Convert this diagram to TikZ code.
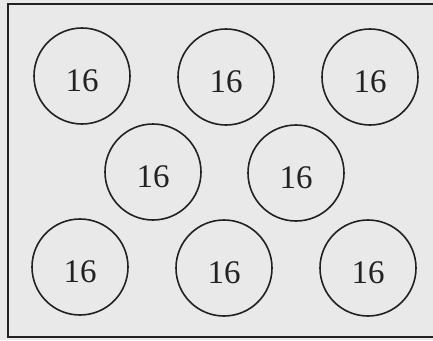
\documentclass[tikz,border=0pt]{standalone}
\usepackage{fontspec}
\setmainfont{Liberation Serif}
\definecolor{paper}{HTML}{E9E9E9}
\definecolor{ink}{HTML}{222222}

\begin{document}
\begin{tikzpicture}[x=1pt,y=-1pt, cell/.style={draw=ink,circle,line width=1.6pt,minimum size=96pt,inner sep=0pt,text height=31pt,text depth=0pt,font=\fontsize{33}{33}\selectfont,text=ink}]
\fill[paper] (0,0) rectangle (433,340);
\useasboundingbox (0,0) rectangle (433,340);
\draw[ink,line width=2pt] (446,4) -- (8,4) -- (8,337) -- (446,337);
\node[cell] (t1) at (82,76) {16};
\node[cell] (t2) at (226,77) {16};
\node[cell] (t3) at (370,77) {16};
\node[cell] (m1) at (153,172) {16};
\node[cell] (m2) at (296,173) {16};
\node[cell] (b1) at (80,267) {16};
\node[cell] (b2) at (224,268) {16};
\node[cell] (b3) at (368,268) {16};
\end{tikzpicture}
\end{document}
